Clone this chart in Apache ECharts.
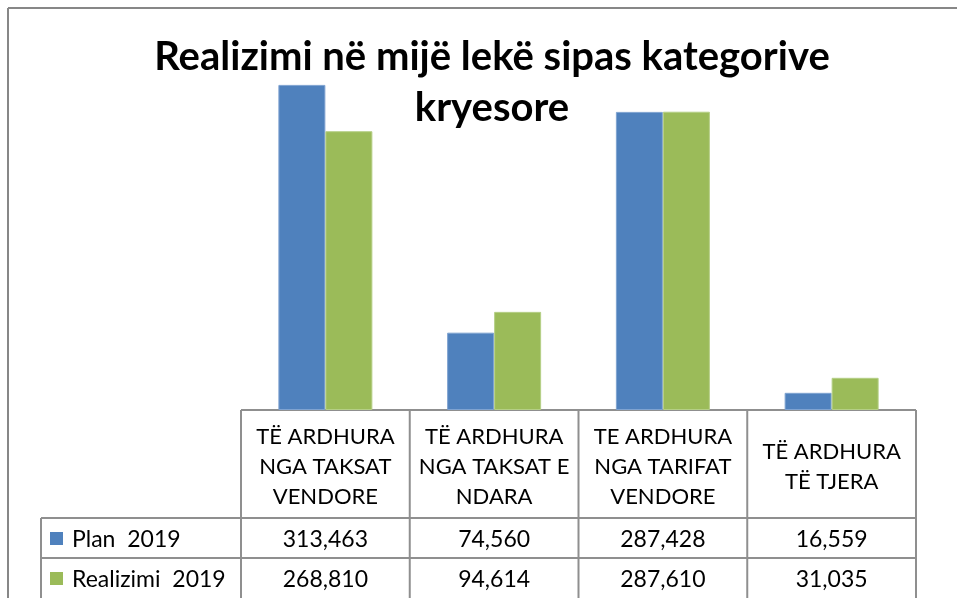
<!DOCTYPE html>
<html>
<head>
<meta charset="utf-8">
<script src="https://cdn.jsdelivr.net/npm/echarts@6/dist/echarts.min.js"></script>
<style>
  html, body { margin: 0; padding: 0; background: #fff; }
  #chart { width: 957px; height: 598px; }
</style>
</head>
<body>
<div id="chart"></div>
<script>
const categories = [
  "TË ARDHURA\nNGA TAKSAT\nVENDORE",
  "TË ARDHURA\nNGA TAKSAT E\nNDARA",
  "TE ARDHURA\nNGA TARIFAT\nVENDORE",
  "TË ARDHURA\nTË TJERA"
];
const seriesNames = ["Plan  2019", "Realizimi  2019"];
const plan2019 = [313463, 74560, 287428, 16559];
const realizimi2019 = [268810, 94614, 287610, 31035];
const colors = ["#4F81BD", "#9BBB59"];

const FONT = "Lato, 'Liberation Sans', sans-serif";
const gridLeft = 241, gridRight = 916, gridTop = 47, gridBottom = 410;
const headerBottom = 518, row1Bottom = 558, tableBottom = 598, legendLeft = 41;
const lineColor = "#8f8f8f";

const chart = echarts.init(document.getElementById("chart"), null, { renderer: "canvas" });

const colW = (gridRight - gridLeft) / categories.length;
const rows = [plan2019, realizimi2019];
const rowCenters = [(headerBottom + row1Bottom) / 2 + 2, (row1Bottom + tableBottom) / 2 + 2];
const fmt = (v) => v.toLocaleString("en-US");

const graphics = [];
const line = (x1, y1, x2, y2, color, w) => graphics.push({
  type: "line", silent: true,
  shape: { x1, y1, x2, y2 },
  style: { stroke: color || lineColor, lineWidth: w || 2 }
});

// chart frame
line(8, 8, 957, 8, "#878787", 2);
line(8, 8, 8, 598, "#878787", 2);

// data table grid
line(gridLeft, gridBottom, gridRight, gridBottom);
line(legendLeft, headerBottom, gridRight, headerBottom);
line(legendLeft, row1Bottom, gridRight, row1Bottom);
line(legendLeft, headerBottom, legendLeft, tableBottom);
for (let i = 0; i <= categories.length; i++) {
  const x = gridLeft + i * colW;
  line(x, gridBottom, x, tableBottom);
}

categories.forEach((c, i) => {
  const cx = gridLeft + (i + 0.5) * colW;
  graphics.push({
    type: "text", silent: true, x: cx, y: (gridBottom + headerBottom) / 2 + 3,
    style: { text: c, font: "22px " + FONT, fill: "#000", align: "center", verticalAlign: "middle", lineHeight: 30 }
  });
  rows.forEach((r, j) => {
    graphics.push({
      type: "text", silent: true, x: cx, y: rowCenters[j],
      style: { text: fmt(r[i]), font: "23px " + FONT, fill: "#000", align: "center", verticalAlign: "middle" }
    });
  });
});

seriesNames.forEach((name, j) => {
  graphics.push({
    type: "rect", silent: true,
    shape: { x: 50, y: rowCenters[j] - 8, width: 13, height: 13 },
    style: { fill: colors[j] }
  });
  graphics.push({
    type: "text", silent: true, x: 72, y: rowCenters[j],
    style: { text: name, font: "23px " + FONT, fill: "#000", align: "left", verticalAlign: "middle" }
  });
});

chart.setOption({
  animation: false,
  backgroundColor: "#fff",
  title: {
    text: "Realizimi në mijë lekë sipas kategorive\nkryesore",
    left: 487, textAlign: "center", top: 27,
    textStyle: { fontFamily: FONT, fontSize: 40, fontWeight: "bold", color: "#000", lineHeight: 51 }
  },
  grid: { left: gridLeft, right: 957 - gridRight, top: gridTop, bottom: 598 - gridBottom },
  xAxis: {
    type: "category", data: categories,
    axisLine: { show: false }, axisTick: { show: false }, axisLabel: { show: false }
  },
  yAxis: { type: "value", min: 0, max: 350000, show: false, splitLine: { show: false } },
  series: [
    { name: seriesNames[0], type: "bar", data: plan2019, barWidth: 47, barGap: "0%",
      itemStyle: { color: colors[0], borderColor: "#7fa3d1", borderWidth: 1 } },
    { name: seriesNames[1], type: "bar", data: realizimi2019, barWidth: 47,
      itemStyle: { color: colors[1], borderColor: "#b5cf86", borderWidth: 1 } }
  ],
  graphic: graphics
});
</script>
</body>
</html>
